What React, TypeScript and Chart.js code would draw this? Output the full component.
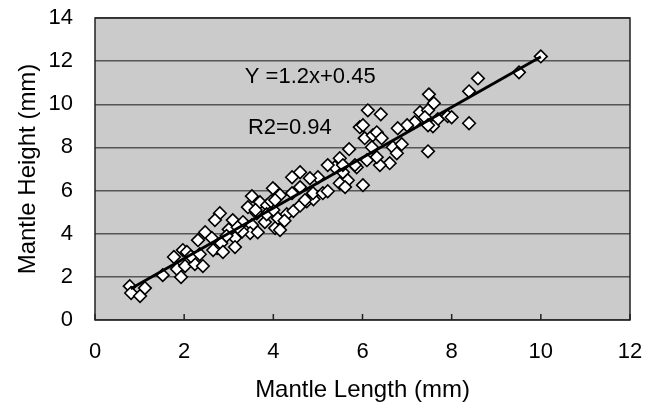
import React, { useEffect, useRef } from "react";
import { Chart, registerables } from "chart.js";

Chart.register(...registerables);

const mantleLength: number[] = [
  0.78, 0.81, 1.01, 1.12, 1.52, 1.84, 1.93, 2.02, 2.24, 2.42, 1.77, 1.97, 2.06, 2.31, 2.47, 2.62, 2.74, 2.83, 2.15, 2.35,
  3.52, 3.70, 4.04, 4.15, 3.43, 3.86, 2.80, 2.69, 3.09, 3.32, 3.63, 3.81, 3.52, 4.10, 4.04, 4.15, 3.14, 3.14, 3.48, 3.65,
  2.65, 2.87, 3.00, 3.30, 2.95, 3.20, 3.85, 4.00, 3.95, 3.60, 4.30, 4.45, 4.25, 4.60, 4.75, 4.90,
  5.94, 6.05, 5.70, 5.49, 5.38, 5.22, 5.56, 5.67, 5.49, 5.61, 6.01, 5.87, 5.00, 4.82, 4.60, 4.42, 4.60, 4.42, 4.89, 5.11,
  5.22, 4.71, 3.99, 4.04,
  7.49, 7.60, 7.29, 7.47, 6.12, 6.41, 6.01, 7.40, 7.69, 7.58, 7.47, 7.17, 7.00, 6.79, 6.23, 6.32, 6.43, 6.21, 6.68, 6.88,
  6.77, 7.47, 6.61, 6.39, 6.32, 6.10, 5.83, 5.56, 7.91, 10.0, 9.51, 8.59, 8.39, 8.00, 8.39,
];
const mantleHeight: number[] = [
  1.57, 1.25, 1.11, 1.48, 2.08, 2.36, 1.99, 2.50, 2.59, 2.50, 2.92, 3.24, 3.15, 3.70, 4.07, 3.80, 3.33, 3.56, 2.95, 3.05,
  5.74, 5.46, 6.02, 5.79, 5.23, 5.32, 4.95, 4.63, 4.63, 4.54, 4.95, 4.54, 4.40, 4.72, 4.26, 4.17, 3.80, 3.38, 4.03, 4.07,
  3.24, 3.15, 4.20, 4.10, 3.90, 4.30, 4.90, 5.10, 5.50, 5.10, 4.90, 5.05, 4.60, 5.30, 5.50, 5.60,
  8.94, 8.43, 7.92, 7.50, 7.08, 7.18, 6.85, 6.48, 6.34, 6.16, 6.25, 7.08, 6.62, 6.57, 6.85, 6.62, 6.16, 5.88, 5.88, 5.88,
  5.97, 5.56, 6.11, 5.56,
  10.46, 10.05, 9.63, 9.72, 9.72, 9.54, 9.03, 9.40, 9.31, 8.98, 9.03, 9.17, 9.03, 8.89, 8.56, 8.70, 8.43, 8.01, 8.01, 8.15,
  7.73, 7.82, 7.27, 7.18, 7.55, 7.41, 7.18, 7.18, 9.45, 12.22, 11.48, 11.20, 10.60, 9.40, 9.12,
];
const trendX: number[] = [0.8, 10.0];
const trendY: number[] = [1.45, 12.2];
const xTicks: number[] = [0, 2, 4, 6, 8, 10, 12];
const yTicks: number[] = [0, 2, 4, 6, 8, 10, 12, 14];
const equationText = "Y =1.2x+0.45";
const r2Text = "R2=0.94";

const FONT = "'Liberation Sans', Arial, sans-serif";

const plotPlugin = {
  id: "plotDecor",
  beforeDraw(chart: any) {
    const { ctx, chartArea } = chart;
    ctx.save();
    ctx.fillStyle = "#cbcbcb";
    ctx.fillRect(chartArea.left, chartArea.top, chartArea.right - chartArea.left, chartArea.bottom - chartArea.top);
    ctx.restore();
  },
  afterDatasetsDraw(chart: any) {
    const { ctx, chartArea, scales } = chart;
    ctx.save();
    ctx.strokeStyle = "#222";
    ctx.lineWidth = 1.5;
    ctx.strokeRect(chartArea.left, chartArea.top, chartArea.right - chartArea.left, chartArea.bottom - chartArea.top);
    ctx.beginPath();
    xTicks.forEach((v) => {
      const px = scales.x.getPixelForValue(v);
      ctx.moveTo(px, chartArea.bottom);
      ctx.lineTo(px, chartArea.bottom - 6);
    });
    ctx.stroke();
    ctx.fillStyle = "#000";
    ctx.font = `22px ${FONT}`;
    ctx.textAlign = "left";
    ctx.textBaseline = "middle";
    ctx.fillText(equationText, scales.x.getPixelForValue(3.36), scales.y.getPixelForValue(11.25));
    ctx.fillText(r2Text, scales.x.getPixelForValue(3.43), scales.y.getPixelForValue(8.9));
    ctx.restore();
  },
};

export default function App() {
  const ref = useRef<HTMLCanvasElement>(null);
  useEffect(() => {
    if (!ref.current) return;
    const chart = new Chart(ref.current, {
      type: "scatter",
      data: {
        datasets: [
          {
            type: "line",
            data: trendX.map((x, i) => ({ x, y: trendY[i] })),
            borderColor: "#000",
            borderWidth: 2.8,
            pointRadius: 0,
            fill: false,
            order: 1,
          } as any,
          {
            data: mantleLength.map((x, i) => ({ x, y: mantleHeight[i] })),
            pointStyle: "rectRot",
            pointRadius: 6.3,
            pointBackgroundColor: "#fff",
            pointBorderColor: "#000",
            pointBorderWidth: 1.6,
            order: 2,
          },
        ],
      },
      options: {
        animation: false,
        responsive: false,
        devicePixelRatio: 1,
        layout: { padding: { top: 18, right: 28, left: 0, bottom: 0 } },
        plugins: { legend: { display: false }, tooltip: { enabled: false } },
        scales: {
          x: {
            type: "linear",
            min: 0,
            max: 12,
            afterBuildTicks: (s: any) => { s.ticks = xTicks.map((v) => ({ value: v })); },
            grid: { display: false, drawTicks: false },
            border: { display: false },
            ticks: { color: "#000", font: { family: FONT, size: 22 }, padding: 19 },
            title: { display: true, text: "Mantle Length (mm)", color: "#000", font: { family: FONT, size: 24 }, padding: { top: 0, bottom: 3 } },
            afterFit: (s: any) => { s.height = 88; s.paddingLeft = 0; s.paddingRight = 0; },
          },
          y: {
            type: "linear",
            min: 0,
            max: 14,
            afterBuildTicks: (s: any) => { s.ticks = yTicks.map((v) => ({ value: v })); },
            grid: { color: "#555", lineWidth: 1.5, drawTicks: false },
            border: { display: false },
            ticks: { color: "#000", font: { family: FONT, size: 22 }, padding: 22 },
            title: { display: true, text: "Mantle Height (mm)", color: "#000", font: { family: FONT, size: 24 }, padding: { top: 14, bottom: 0 } },
            afterFit: (s: any) => { s.width = 95; s.paddingTop = 0; s.paddingBottom = 0; },
          },
        },
      },
      plugins: [plotPlugin],
    });
    return () => chart.destroy();
  }, []);
  return (
    <div style={{ position: "fixed", left: 0, top: 0, width: 658, height: 408, background: "#fff" }}>
      <canvas ref={ref} width={658} height={408} style={{ width: 658, height: 408 }} />
    </div>
  );
}
